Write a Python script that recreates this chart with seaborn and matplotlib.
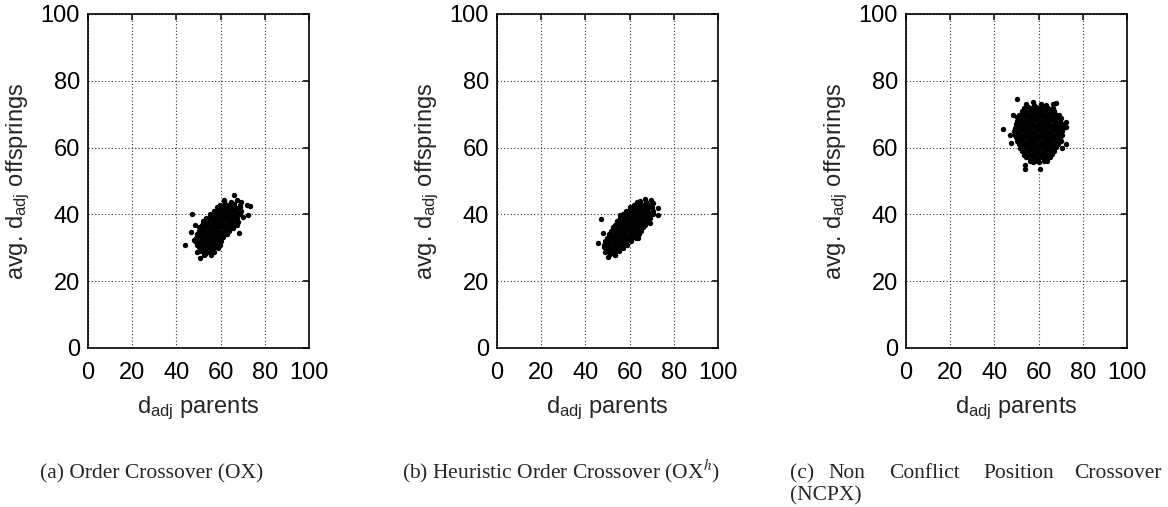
import pandas as pd
import matplotlib
matplotlib.use("Agg")
import matplotlib.pyplot as plt
import seaborn as sns

# --- data: (d_adj parents, avg. d_adj offsprings) ---
OX_POINTS = [
    # loose points around the cloud
    (44.1, 30.8), (47.1, 40.0), (66.1, 45.8), (72.1, 42.8), (73.3, 42.6), (72.4, 39.8),
    (50.9, 26.8), (46.4, 34.8), (48.6, 36.8), (48.0, 32.3), (49.4, 28.8), (68.3, 34.3),
    (67.5, 36.8), (70.0, 39.3), (69.1, 43.8), (61.5, 44.3), (57.0, 28.8), (52.4, 27.8),
    # dense core
    (61.5, 44.1), (64.8, 43.8), (67.4, 44.3),
    (59.8, 42.9), (62.1, 43.2), (63.9, 42.8), (66.0, 43.1), (68.6, 42.9),
    (58.4, 42.1), (60.2, 41.8), (61.9, 42.2), (63.6, 41.9), (65.3, 42.1), (67.1, 41.8), (69.0, 42.2),
    (56.8, 40.9), (58.5, 41.2), (60.3, 40.8), (62.0, 41.1), (63.7, 40.9), (65.4, 41.2), (67.2, 40.8), (69.3, 41.0),
    (55.0, 40.1), (56.7, 39.8), (58.4, 40.2), (60.1, 39.9), (61.8, 40.1), (63.5, 39.8), (65.2, 40.2), (66.9, 39.9), (68.7, 40.1),
    (53.6, 38.9), (55.3, 39.2), (57.0, 38.8), (58.7, 39.1), (60.4, 38.9), (62.1, 39.2), (63.8, 38.8), (65.5, 39.1), (67.3, 38.9),
    (52.2, 38.1), (53.9, 37.8), (55.6, 38.2), (57.3, 37.9), (59.0, 38.1), (60.7, 37.8), (62.4, 38.2), (64.1, 37.9), (65.9, 38.1), (67.8, 37.8),
    (51.5, 36.9), (53.2, 37.2), (54.9, 36.8), (56.6, 37.1), (58.3, 36.9), (60.0, 37.2), (61.7, 36.8), (63.4, 37.1), (65.2, 36.9),
    (50.4, 36.1), (52.1, 35.8), (53.8, 36.2), (55.5, 35.9), (57.2, 36.1), (58.9, 35.8), (60.6, 36.2), (62.3, 35.9), (64.0, 36.1), (65.8, 35.8),
    (50.0, 34.9), (51.7, 35.2), (53.4, 34.8), (55.1, 35.1), (56.8, 34.9), (58.5, 35.2), (60.2, 34.8), (61.9, 35.1), (63.6, 34.9),
    (49.2, 34.1), (50.9, 33.8), (52.6, 34.2), (54.3, 33.9), (56.0, 34.1), (57.7, 33.8), (59.4, 34.2), (61.1, 33.9), (62.9, 34.1),
    (49.0, 32.9), (50.7, 33.2), (52.4, 32.8), (54.1, 33.1), (55.8, 32.9), (57.5, 33.2), (59.2, 32.8), (61.0, 33.1),
    (48.5, 32.1), (50.2, 31.8), (51.9, 32.2), (53.6, 31.9), (55.3, 32.1), (57.0, 31.8), (58.7, 32.2), (60.4, 31.9),
    (49.4, 30.9), (51.1, 31.2), (52.8, 30.8), (54.5, 31.1), (56.2, 30.9), (57.9, 31.2), (59.6, 30.8),
    (50.3, 30.1), (52.0, 29.8), (53.7, 30.2), (55.4, 29.9), (57.1, 30.1), (58.8, 29.8),
    (51.2, 28.9), (53.0, 29.2), (54.8, 28.8), (56.6, 29.1),
    (52.8, 28.1), (55.6, 27.9),
]

OXH_POINTS = [
    (47.1, 38.6), (45.8, 31.3), (50.1, 27.2), (53.4, 27.8), (63.2, 43.8), (67.0, 44.5),
    (70.7, 43.3), (72.7, 41.8), (72.7, 39.8), (69.2, 37.3), (63.9, 32.8), (55.7, 39.8),
    (48.1, 34.3), (48.8, 28.8),
    (64.5, 44.1), (67.2, 43.8), (69.5, 44.2),
    (61.8, 42.9), (63.5, 43.2), (65.3, 42.8), (67.0, 43.1), (68.9, 42.9),
    (60.0, 42.1), (61.7, 41.8), (63.4, 42.2), (65.1, 41.9), (66.8, 42.1), (68.5, 41.8), (70.3, 42.1),
    (58.3, 40.9), (60.0, 41.2), (61.7, 40.8), (63.4, 41.1), (65.1, 40.9), (66.8, 41.2), (68.5, 40.8), (70.4, 41.0),
    (56.9, 40.1), (58.6, 39.8), (60.3, 40.2), (62.0, 39.9), (63.7, 40.1), (65.4, 39.8), (67.1, 40.2), (68.8, 39.9), (70.6, 40.1),
    (55.5, 38.9), (57.2, 39.2), (58.9, 38.8), (60.6, 39.1), (62.3, 38.9), (64.0, 39.2), (65.7, 38.8), (67.4, 39.1), (69.3, 38.9),
    (54.2, 38.1), (55.9, 37.8), (57.6, 38.2), (59.3, 37.9), (61.0, 38.1), (62.7, 37.8), (64.4, 38.2), (66.1, 37.9), (67.9, 38.1),
    (53.4, 36.9), (55.1, 37.2), (56.8, 36.8), (58.5, 37.1), (60.2, 36.9), (61.9, 37.2), (63.6, 36.8), (65.3, 37.1), (67.0, 36.9),
    (52.5, 36.1), (54.2, 35.8), (55.9, 36.2), (57.6, 35.9), (59.3, 36.1), (61.0, 35.8), (62.7, 36.2), (64.4, 35.9), (66.0, 36.1),
    (51.6, 34.9), (53.3, 35.2), (55.0, 34.8), (56.7, 35.1), (58.4, 34.9), (60.1, 35.2), (61.8, 34.8), (63.5, 35.1), (65.2, 34.9),
    (50.5, 34.1), (52.2, 33.8), (53.9, 34.2), (55.6, 33.9), (57.3, 34.1), (59.0, 33.8), (60.7, 34.2), (62.4, 33.9), (64.2, 34.1),
    (49.6, 32.9), (51.3, 33.2), (53.0, 32.8), (54.7, 33.1), (56.4, 32.9), (58.1, 33.2), (59.8, 32.8), (61.5, 33.1), (63.0, 32.9),
    (48.7, 32.1), (50.4, 31.8), (52.1, 32.2), (53.8, 31.9), (55.5, 32.1), (57.2, 31.8), (58.9, 32.2), (60.6, 31.9),
    (48.4, 30.9), (50.1, 31.2), (51.8, 30.8), (53.5, 31.1), (55.2, 30.9), (56.9, 31.2), (58.6, 30.8),
    (48.6, 30.1), (50.3, 29.8), (52.0, 30.2), (53.7, 29.9), (55.4, 30.1), (57.2, 29.8),
    (49.8, 28.9), (51.6, 29.2), (53.4, 28.8), (55.2, 29.1),
    (51.0, 28.1), (53.6, 27.9),
]

NCPX_POINTS = [
    (50.1, 74.5), (44.0, 65.5), (57.3, 73.6), (67.9, 73.4), (72.4, 67.8), (72.6, 66.1),
    (72.4, 61.1), (53.8, 54.8), (53.8, 53.5), (60.6, 53.5), (57.6, 55.8), (63.7, 56.1),
    (47.0, 63.8), (48.6, 69.8), (47.4, 61.3), (70.5, 59.8),
    (54.5, 73.1), (57.8, 72.8), (61.0, 73.2), (63.5, 72.9), (66.4, 73.1),
    (53.6, 71.9), (55.4, 72.2), (57.2, 71.8), (59.0, 72.1), (60.8, 71.9), (62.6, 72.2), (64.4, 71.8), (66.3, 72.0),
    (52.4, 71.1), (54.2, 70.8), (56.0, 71.2), (57.8, 70.9), (59.6, 71.1), (61.4, 70.8), (63.2, 71.2), (65.0, 70.9), (66.8, 71.1),
    (51.3, 69.9), (53.1, 70.2), (54.9, 69.8), (56.7, 70.1), (58.5, 69.9), (60.3, 70.2), (62.1, 69.8), (63.9, 70.1), (65.7, 69.9), (67.5, 70.2), (69.3, 69.9),
    (50.4, 69.1), (52.2, 68.8), (54.0, 69.2), (55.8, 68.9), (57.6, 69.1), (59.4, 68.8), (61.2, 69.2), (63.0, 68.9), (64.8, 69.1), (66.6, 68.8), (68.4, 69.2), (70.0, 68.9),
    (50.0, 67.9), (51.8, 68.2), (53.6, 67.8), (55.4, 68.1), (57.2, 67.9), (59.0, 68.2), (60.8, 67.8), (62.6, 68.1), (64.4, 67.9), (66.2, 68.2), (68.0, 67.8), (69.8, 68.1),
    (49.6, 67.1), (51.4, 66.8), (53.2, 67.2), (55.0, 66.9), (56.8, 67.1), (58.6, 66.8), (60.4, 67.2), (62.2, 66.9), (64.0, 67.1), (65.8, 66.8), (67.6, 67.2), (69.4, 66.9), (70.8, 67.1),
    (49.3, 65.9), (51.1, 66.2), (52.9, 65.8), (54.7, 66.1), (56.5, 65.9), (58.3, 66.2), (60.1, 65.8), (61.9, 66.1), (63.7, 65.9), (65.5, 66.2), (67.3, 65.8), (69.1, 66.1), (70.9, 65.9),
    (49.0, 65.1), (50.8, 64.8), (52.6, 65.2), (54.4, 64.9), (56.2, 65.1), (58.0, 64.8), (59.8, 65.2), (61.6, 64.9), (63.4, 65.1), (65.2, 64.8), (67.0, 65.2), (68.8, 64.9), (70.6, 65.1),
    (49.2, 63.9), (51.0, 64.2), (52.8, 63.8), (54.6, 64.1), (56.4, 63.9), (58.2, 64.2), (60.0, 63.8), (61.8, 64.1), (63.6, 63.9), (65.4, 64.2), (67.2, 63.8), (69.0, 64.1), (70.7, 63.9),
    (49.7, 63.1), (51.5, 62.8), (53.3, 63.2), (55.1, 62.9), (56.9, 63.1), (58.7, 62.8), (60.5, 63.2), (62.3, 62.9), (64.1, 63.1), (65.9, 62.8), (67.7, 63.2), (69.5, 62.9),
    (50.3, 61.9), (52.1, 62.2), (53.9, 61.8), (55.7, 62.1), (57.5, 61.9), (59.3, 62.2), (61.1, 61.8), (62.9, 62.1), (64.7, 61.9), (66.5, 62.2), (68.3, 61.8), (70.0, 62.1),
    (51.0, 61.1), (52.8, 60.8), (54.6, 61.2), (56.4, 60.9), (58.2, 61.1), (60.0, 60.8), (61.8, 61.2), (63.6, 60.9), (65.4, 61.1), (67.2, 60.8), (69.0, 61.2),
    (51.8, 59.9), (53.6, 60.2), (55.4, 59.8), (57.2, 60.1), (59.0, 59.9), (60.8, 60.2), (62.6, 59.8), (64.4, 60.1), (66.2, 59.9), (68.0, 60.2),
    (52.5, 59.1), (54.3, 58.8), (56.1, 59.2), (57.9, 58.9), (59.7, 59.1), (61.5, 58.8), (63.3, 59.2), (65.1, 58.9), (66.9, 59.1),
    (53.3, 57.9), (55.1, 58.2), (56.9, 57.8), (58.7, 58.1), (60.5, 57.9), (62.3, 58.2), (64.1, 57.8), (65.9, 58.1),
    (54.5, 57.1), (56.3, 56.8), (58.1, 57.2), (59.9, 56.9), (61.7, 57.1), (63.5, 56.8), (65.2, 57.1),
    (56.0, 55.9), (58.2, 56.1), (60.4, 55.8), (62.6, 56.1),
]

TICKS = [0, 20, 40, 60, 80, 100]
X_LABEL = r"d$_{\mathrm{adj}}$ parents"
Y_LABEL = r"avg. d$_{\mathrm{adj}}$ offsprings"

W, H = 1168, 507
AX_LEFT_PX = [88, 497, 906]

sns.set_style("white")
plt.rcParams["font.family"] = ["Liberation Sans", "DejaVu Sans"]
plt.rcParams["mathtext.fontset"] = "custom"
plt.rcParams["mathtext.rm"] = "Liberation Sans"
plt.rcParams["mathtext.it"] = "Liberation Sans:italic"

fig = plt.figure(figsize=(W / 100, H / 100), dpi=100)

for left_px, pts in zip(AX_LEFT_PX, [OX_POINTS, OXH_POINTS, NCPX_POINTS]):
    ax = fig.add_axes([left_px / W, (H - 348) / H, 221 / W, 334 / H])
    df = pd.DataFrame(pts, columns=["parents", "offsprings"])
    sns.scatterplot(data=df, x="parents", y="offsprings", ax=ax, color="black",
                    s=15, linewidth=0, legend=False, zorder=3)
    ax.set_xlim(0, 100)
    ax.set_ylim(0, 100)
    ax.set_xticks(TICKS)
    ax.set_yticks(TICKS)
    ax.set_axisbelow(True)
    ax.grid(True, color="#333333", linestyle=(0, (1, 2)), linewidth=0.8)
    ax.tick_params(direction="in", length=4.5, width=1.1, top=True, right=True,
                   labelsize=17, colors="black")
    ax.tick_params(axis="x", pad=10)
    ax.tick_params(axis="y", pad=5.8)
    for sp in ax.spines.values():
        sp.set_color("black")
        sp.set_linewidth(1.2)
    ax.set_xlabel(X_LABEL, fontsize=17)
    ax.set_ylabel(Y_LABEL, fontsize=17)
    ax.xaxis.set_label_coords(0.5, -(395 - 348) / 334)
    ax.yaxis.set_label_coords(-(88 - 32) / 221, 0.5)

# sub-captions
cap = dict(family=["Liberation Serif", "DejaVu Serif"], fontsize=15.5, va="baseline",
           math_fontfamily="stix")
base = 1 - 478 / H
fig.text(151.5 / W, base, "(a) Order Crossover (OX)", ha="center", **cap)
fig.text(561.5 / W, base, "(b) Heuristic Order Crossover (OX$^{h}$)", ha="center", **cap)
for word, xpx in [("(c)", 790), ("Non", 828), ("Conflict", 889), ("Position", 983)]:
    fig.text(xpx / W, base, word, ha="left", **cap)
fig.text(1162 / W, base, "Crossover", ha="right", **cap)
fig.text(790 / W, 1 - 500 / H, "(NCPX)", ha="left", **cap)

fig.savefig("out.png", dpi=100)
